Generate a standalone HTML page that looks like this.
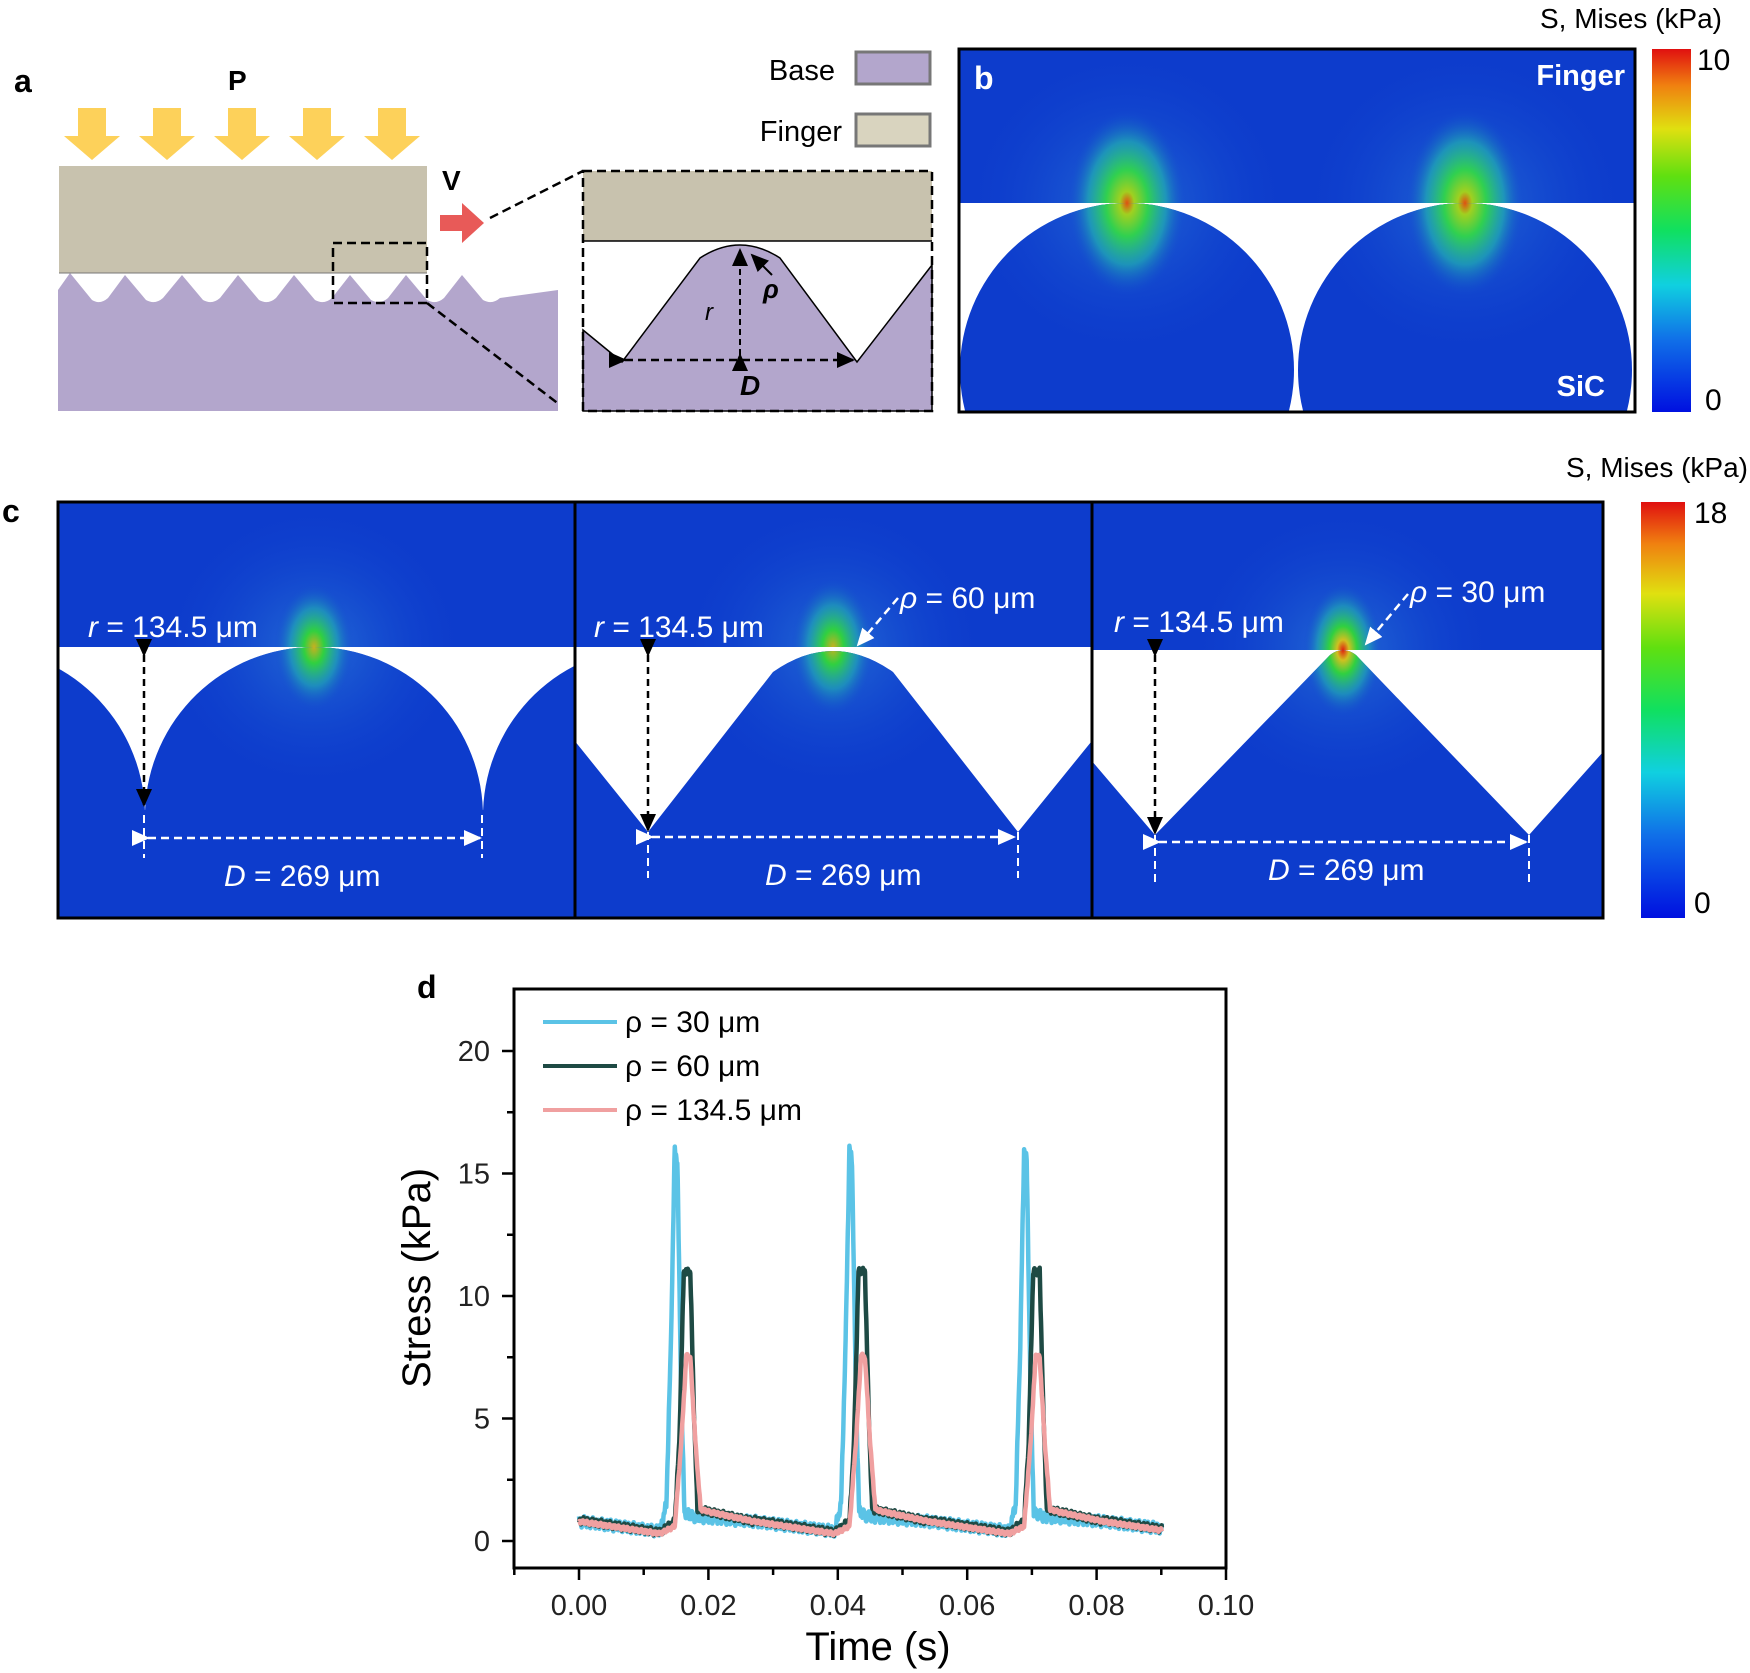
<!DOCTYPE html>
<html><head><meta charset="utf-8"><style>
body{margin:0;background:#fff}
svg{display:block;font-family:"Liberation Sans",sans-serif}
</style></head><body>
<svg id="s" width="1750" height="1673" viewBox="0 0 1750 1673" xmlns="http://www.w3.org/2000/svg">
<defs>
<radialGradient id="hot1"><stop offset="0" stop-color="#e05010"/><stop offset="0.12" stop-color="#a0d020"/><stop offset="0.35" stop-color="#30d050"/><stop offset="0.65" stop-color="#20b0b0" stop-opacity="0.7"/><stop offset="1" stop-color="#1040d0" stop-opacity="0"/></radialGradient>
<radialGradient id="hot2"><stop offset="0" stop-color="#c8b020"/><stop offset="0.25" stop-color="#30d040"/><stop offset="0.6" stop-color="#20b0b0" stop-opacity="0.6"/><stop offset="1" stop-color="#1040d0" stop-opacity="0"/></radialGradient>
<radialGradient id="hot3"><stop offset="0" stop-color="#e02010"/><stop offset="0.15" stop-color="#d0c020"/><stop offset="0.35" stop-color="#30d040"/><stop offset="0.65" stop-color="#20b0b0" stop-opacity="0.6"/><stop offset="1" stop-color="#1040d0" stop-opacity="0"/></radialGradient>
<radialGradient id="glow"><stop offset="0" stop-color="#2a7ad8" stop-opacity="0.8"/><stop offset="1" stop-color="#1040d0" stop-opacity="0"/></radialGradient>
<linearGradient id="cb" x1="0" y1="1" x2="0" y2="0"><stop offset="0" stop-color="#0010e0"/><stop offset="0.2" stop-color="#1070e8"/><stop offset="0.35" stop-color="#10d0e0"/><stop offset="0.5" stop-color="#10e060"/><stop offset="0.65" stop-color="#60e010"/><stop offset="0.78" stop-color="#e0e010"/><stop offset="0.9" stop-color="#f08010"/><stop offset="1" stop-color="#e01010"/></linearGradient>
<clipPath id="cpb"><rect x="959" y="49" width="676" height="154"/><circle cx="1127" cy="370" r="167"/><circle cx="1465" cy="370" r="167"/></clipPath>
<clipPath id="c1"><rect x="58" y="502" width="516" height="145"/><circle cx="314" cy="816" r="169"/><circle cx="-24" cy="816" r="169"/><circle cx="652" cy="816" r="169"/><rect x="58" y="810" width="516" height="108"/></clipPath>
<clipPath id="c2"><rect x="574" y="502" width="517" height="145"/><path d="M574,740L648,832L773,672Q833,630 893,672L1018,832L1091,742V918H574z"/></clipPath>
<clipPath id="c3"><rect x="1091" y="502" width="512" height="148"/><path d="M1091,760L1155,835L1330,655Q1343,645 1356,655L1529,835L1603,752V918H1091z"/></clipPath>
<marker id="ab" markerUnits="userSpaceOnUse" markerWidth="20" markerHeight="20" refX="16" refY="10" orient="auto"><path d="M0,2L18,10L0,18z" fill="#000"/></marker>
<marker id="aw" markerUnits="userSpaceOnUse" markerWidth="20" markerHeight="20" refX="16" refY="10" orient="auto"><path d="M0,2L18,10L0,18z" fill="#fff"/></marker>
</defs>

<!-- panel a -->
<text x="14" y="92" font-size="32" font-weight="bold">a</text>
<text x="228" y="90" font-size="28" font-weight="bold">P</text>
<g fill="#fdd15a">
<path d="M78,108h28v28h14l-28,24l-28,-24h14z"/>
<path d="M153,108h28v28h14l-28,24l-28,-24h14z"/>
<path d="M228,108h28v28h14l-28,24l-28,-24h14z"/>
<path d="M303,108h28v28h14l-28,24l-28,-24h14z"/>
<path d="M378,108h28v28h14l-28,24l-28,-24h14z"/>
</g>
<rect x="59" y="166" width="368" height="107" fill="#c8c2ae"/>
<path d="M58,411V290L70,273L92,300Q100,305 108,298L125,275L146,300Q155,305 163,298L182,275L203,300Q212,305 220,298L238,275L259,300Q268,305 276,298L294,275L315,300Q324,305 332,298L350,275L371,300Q380,305 388,298L406,275L427,300Q436,305 444,298L462,275L483,300Q492,305 500,298L558,290V411z" fill="#b3a6cc"/>
<path d="M59,273H427" stroke="#777" stroke-width="1"/>
<text x="442" y="190" font-size="28" font-weight="bold">V</text>
<path d="M440,215h22v-12l22,20l-22,20v-12h-22z" fill="#e85a58"/>
<rect x="333" y="243" width="94" height="60" fill="none" stroke="#000" stroke-width="2.5" stroke-dasharray="9,5"/>
<path d="M490,218L583,171M427,303L560,405" stroke="#000" stroke-width="2.5" stroke-dasharray="9,5"/>
<rect x="583" y="171" width="349" height="70" fill="#c8c2ae"/>
<path d="M583,330L622,362L700,258Q740,232 780,258L857,362L932,265V411H583z" fill="#b3a6cc" stroke="#000" stroke-width="1.5"/>
<path d="M583,241H932" stroke="#000" stroke-width="1.5"/>
<rect x="583" y="171" width="349" height="240" fill="none" stroke="#000" stroke-width="2.5" stroke-dasharray="9,5"/>
<path d="M740,355V250" stroke="#000" stroke-width="2" stroke-dasharray="6,4" marker-end="url(#ab)" marker-start="url(#ab)"/>
<path d="M625,360H853" stroke="#000" stroke-width="2.5" stroke-dasharray="8,5" marker-end="url(#ab)" marker-start="url(#ab)"/>
<path d="M772,275L752,255" stroke="#000" stroke-width="2" marker-end="url(#ab)"/>
<text x="705" y="320" font-size="24" font-style="italic">r</text>
<text x="763" y="298" font-size="26" font-style="italic" font-weight="bold">ρ</text>
<text x="740" y="395" font-size="28" font-style="italic" font-weight="bold">D</text>
<text x="835" y="80" font-size="29" text-anchor="end">Base</text>
<rect x="856" y="52" width="74" height="32" fill="#b3a6cc" stroke="#777" stroke-width="3"/>
<text x="842" y="141" font-size="29" text-anchor="end">Finger</text>
<rect x="856" y="114" width="74" height="32" fill="#d9d4bf" stroke="#777" stroke-width="3"/>

<!-- panel b -->
<rect x="959" y="49" width="676" height="363" fill="#fff"/>
<g clip-path="url(#cpb)">
<rect x="959" y="49" width="676" height="363" fill="#0d3ccc"/>
<ellipse cx="1127" cy="203" rx="160" ry="150" fill="url(#glow)"/>
<ellipse cx="1465" cy="203" rx="160" ry="150" fill="url(#glow)"/>
<ellipse cx="1127" cy="203" rx="60" ry="95" fill="url(#hot1)"/>
<ellipse cx="1465" cy="203" rx="60" ry="95" fill="url(#hot1)"/>
</g>
<rect x="959" y="49" width="676" height="363" fill="none" stroke="#000" stroke-width="3"/>
<text x="974" y="89" font-size="32" font-weight="bold" fill="#fff">b</text>
<text x="1625" y="85" font-size="29" font-weight="bold" fill="#fff" text-anchor="end">Finger</text>
<text x="1605" y="396" font-size="29" font-weight="bold" fill="#fff" text-anchor="end">SiC</text>
<rect x="1652" y="49" width="39" height="363" fill="url(#cb)"/>
<text x="1722" y="28" font-size="28" text-anchor="end">S, Mises (kPa)</text>
<text x="1697" y="70" font-size="30">10</text>
<text x="1705" y="410" font-size="30">0</text>

<!-- panel c -->
<text x="2" y="522" font-size="32" font-weight="bold">c</text>
<rect x="58" y="502" width="1545" height="416" fill="#fff"/>
<g clip-path="url(#c1)">
<rect x="58" y="502" width="516" height="416" fill="#0d3ccc"/>
<ellipse cx="314" cy="647" rx="150" ry="140" fill="url(#glow)"/>
<ellipse cx="314" cy="647" rx="40" ry="65" fill="url(#hot2)"/>
</g>
<g clip-path="url(#c2)">
<rect x="574" y="502" width="517" height="416" fill="#0d3ccc"/>
<ellipse cx="833" cy="647" rx="150" ry="140" fill="url(#glow)"/>
<ellipse cx="833" cy="647" rx="42" ry="70" fill="url(#hot2)"/>
</g>
<g clip-path="url(#c3)">
<rect x="1091" y="502" width="512" height="416" fill="#0d3ccc"/>
<ellipse cx="1343" cy="650" rx="150" ry="140" fill="url(#glow)"/>
<ellipse cx="1343" cy="650" rx="40" ry="68" fill="url(#hot3)"/>
</g>
<rect x="58" y="502" width="1545" height="416" fill="none" stroke="#000" stroke-width="3"/>
<path d="M575,502V918M1092,502V918" stroke="#000" stroke-width="3"/>
<g font-size="30" fill="#fff">
<text x="88" y="637"><tspan font-style="italic">r</tspan> = 134.5 μm</text>
<text x="594" y="637"><tspan font-style="italic">r</tspan> = 134.5 μm</text>
<text x="1114" y="632"><tspan font-style="italic">r</tspan> = 134.5 μm</text>
<text x="224" y="886"><tspan font-style="italic">D</tspan> = 269 μm</text>
<text x="765" y="885"><tspan font-style="italic">D</tspan> = 269 μm</text>
<text x="1268" y="880"><tspan font-style="italic">D</tspan> = 269 μm</text>
<text x="900" y="608"><tspan font-style="italic">ρ</tspan> = 60 μm</text>
<text x="1410" y="602"><tspan font-style="italic">ρ</tspan> = 30 μm</text>
</g>
<g stroke="#000" stroke-width="2.5" stroke-dasharray="7,5">
<path d="M144,655V805" marker-start="url(#ab)" marker-end="url(#ab)"/>
<path d="M648,655V830" marker-start="url(#ab)" marker-end="url(#ab)"/>
<path d="M1155,655V833" marker-start="url(#ab)" marker-end="url(#ab)"/>
</g>
<g stroke="#fff" stroke-width="2.5" stroke-dasharray="8,5">
<path d="M148,838H480" marker-start="url(#aw)" marker-end="url(#aw)"/>
<path d="M652,837H1014" marker-start="url(#aw)" marker-end="url(#aw)"/>
<path d="M1159,842H1526" marker-start="url(#aw)" marker-end="url(#aw)"/>
<path d="M144,815V858M482,815V858M648,832V878M1018,832V878M1155,835V882M1529,835V882" stroke-width="2"/>
<path d="M898,598L858,645" marker-end="url(#aw)"/>
<path d="M1408,594L1366,644" marker-end="url(#aw)"/>
</g>
<rect x="1641" y="502" width="44" height="416" fill="url(#cb)"/>
<text x="1748" y="477" font-size="28" text-anchor="end">S, Mises (kPa)</text>
<text x="1694" y="523" font-size="30">18</text>
<text x="1694" y="913" font-size="30">0</text>

<!-- panel d -->
<text x="417" y="998" font-size="32" font-weight="bold">d</text>
<g id="ticks" stroke="#000" stroke-width="2.5"></g>
<g id="curves" fill="none" stroke-width="4.5" stroke-linejoin="round"></g>
<rect x="514" y="989" width="712" height="579" fill="none" stroke="#000" stroke-width="3"/>
<g id="tl" font-size="29" fill="#222"></g>
<text x="878" y="1660" font-size="40" text-anchor="middle">Time (s)</text>
<text transform="translate(430,1278) rotate(-90)" font-size="40" text-anchor="middle">Stress (kPa)</text>
<g font-size="30">
<path d="M543,1022H617" stroke="#5bc3e6" stroke-width="4"/><text x="625" y="1032">ρ = 30 μm</text>
<path d="M543,1066H617" stroke="#1e4a44" stroke-width="4"/><text x="625" y="1076">ρ = 60 μm</text>
<path d="M543,1110H617" stroke="#f0a0a0" stroke-width="4"/><text x="625" y="1120">ρ = 134.5 μm</text>
</g>
</svg>
<script>
const NS="http://www.w3.org/2000/svg";
const X=t=>579+t*6470, Y=v=>1541-v*24.5;
const tk=document.getElementById('ticks'), tl=document.getElementById('tl');
let d="";
for(let i=-1;i<=10;i++){const x=X(i/100);d+=`M${x},1568v${i%2==0?12:7}`;}
for(let v=0;v<=22;v+=2.5){const y=Y(v);d+=`M514,${y}h${v%5==0?-12:-7}`;}
const p=document.createElementNS(NS,'path');p.setAttribute('d',d);tk.appendChild(p);
for(let i=0;i<=10;i+=2){const t=document.createElementNS(NS,'text');t.setAttribute('x',X(i/100));t.setAttribute('y',1615);t.setAttribute('text-anchor','middle');t.textContent=(i/100).toFixed(2);tl.appendChild(t);}
for(let v=0;v<=20;v+=5){const t=document.createElementNS(NS,'text');t.setAttribute('x',490);t.setAttribute('y',Y(v)+10);t.setAttribute('text-anchor','end');t.textContent=v;tl.appendChild(t);}
const P=0.027;
function lerp(pts,c){for(let i=0;i<pts.length-1;i++){if(c>=pts[i][0]&&c<=pts[i+1][0]){const a=(c-pts[i][0])/(pts[i+1][0]-pts[i][0]);return pts[i][1]+(pts[i+1][1]-pts[i][1])*a;}}return pts[pts.length-1][1];}
function series(key,amp,seed){
  let pts=[];
  for(let t=0;t<=0.0901;t+=0.00005){
    let c=t%P;
    let v=lerp(key,c);
    v+=(Math.sin(t*9000+seed)+Math.sin(t*23000+seed*2))*amp;
    pts.push(X(t).toFixed(1)+","+Y(v).toFixed(1));
  }
  return "M"+pts.join("L");
}
const cyan=[[0,0.8],[0.0125,0.4],[0.0135,1.5],[0.0142,8],[0.0148,16],[0.0152,15.5],[0.0158,6],[0.0163,1.2],[0.0175,1.0],[0.027,0.8]];
const dark=[[0,0.85],[0.0125,0.35],[0.0148,0.8],[0.0155,4],[0.0162,11],[0.0172,11],[0.0178,5],[0.0183,1.3],[0.02,1.2],[0.027,0.8]];
const pink=[[0,0.8],[0.0125,0.3],[0.0148,0.6],[0.0158,4],[0.0166,7.6],[0.0172,7.5],[0.0180,4],[0.0188,1.3],[0.02,1.2],[0.027,0.8]];
const cv=document.getElementById('curves');
[["#5bc3e6",cyan,0.12,1],["#1e4a44",dark,0.08,2],["#f0a0a0",pink,0.04,3]].forEach(a=>{
  const q=document.createElementNS(NS,'path');q.setAttribute('d',series(a[1],a[2],a[3]));q.setAttribute('stroke',a[0]);cv.appendChild(q);});
</script>
</body></html>
